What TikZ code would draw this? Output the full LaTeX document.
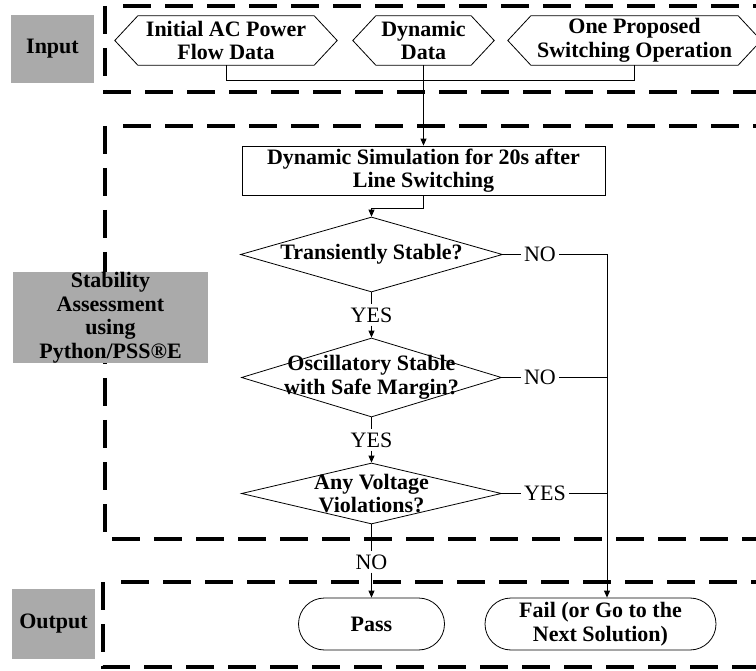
\documentclass[tikz,border=0pt]{standalone}
\usepackage{fontspec}
\setmainfont{Liberation Serif}
\usetikzlibrary{shapes.geometric, arrows.meta, calc}
\definecolor{tagfill}{RGB}{170,170,170}

\begin{document}
\begin{tikzpicture}[x=1pt, y=-1pt,
  txt/.style={font=\fontsize{22}{23.5}\selectfont},
  boldtext/.style={font=\fontsize{22}{23.5}\selectfont\bfseries, align=center, inner sep=0pt},
  frame/.style={line width=3.3pt, dash pattern=on 28pt off 14pt},
  tag/.style={boldtext, fill=tagfill},
  hexnode/.style={boldtext, minimum height=49pt},
  outline/.style={line width=0.8pt},
  procbox/.style={boldtext, draw, outline, minimum width=363pt, minimum height=49pt},
  decision/.style={diamond, draw, outline, inner sep=0pt},
  terminal/.style={boldtext, draw, outline, rounded corners=26pt, minimum height=52pt},
  conn/.style={line width=0.9pt},
  arr/.style={conn, -{Triangle[length=7pt,width=6pt]}},
  answer/.style={txt, inner sep=3pt}
]
\useasboundingbox (0,0) rectangle (756,671);

% dashed group frames (open to the right)
\draw[frame] (105,6) -- (105,92) -- (764,92);
\draw[frame] (123,6) -- (764,6);
\draw[frame] (105,126) -- (105,539) -- (764,539);
\draw[frame] (123,126) -- (764,126);
\draw[frame] (103,582) -- (103,667) -- (764,667);
\draw[frame] (121,582) -- (764,582);

% group tags
\node[tag, minimum width=83pt, minimum height=68pt] (tagin) at (52.5,49) {Input};
\node[tag, minimum width=195pt, minimum height=89pt] (tagstab) at (110.5,317.5)
  {Stability\\Assessment\\using\\Python/PSS®E};
\node[tag, minimum width=83pt, minimum height=70pt] (tagout) at (53.5,624) {Output};

% input data
\node[hexnode, minimum width=222pt] (h1) at (226,40.5) {Initial AC Power\\Flow Data};
\node[hexnode, minimum width=141pt] (h2) at (423.5,40.5) {Dynamic\\Data};
\node[hexnode, minimum width=253pt] (h3) at (634.5,40.5) {One Proposed\\Switching Operation};
\foreach \h in {h1,h2,h3}
  \draw[outline] (\h.west) -- ($(\h.north west)+(23,0)$) -- ($(\h.north east)+(-23,0)$)
    -- (\h.east) -- ($(\h.south east)+(-23,0)$) -- ($(\h.south west)+(23,0)$) -- cycle;

% simulation and checks
\node[procbox] (sim) at (423.5,170.5) {Dynamic Simulation for 20s after\\Line Switching};

\node[decision, minimum width=262pt, minimum height=75pt] (d1) at (371.5,254.5) {};
\node[boldtext] (t1) at (d1.center) {Transiently Stable?};
\node[decision, minimum width=260pt, minimum height=79pt] (d2) at (371.5,377.5) {};
\node[boldtext] (t2) at (d2.center) {Oscillatory Stable\\with Safe Margin?};
\node[decision, minimum width=260pt, minimum height=61pt] (d3) at (371.5,493.5) {};
\node[boldtext] (t3) at (d3.center) {Any Voltage\\Violations?};

% outcomes
\node[terminal, minimum width=146pt] (pass) at (371.5,624) {Pass};
\node[terminal, minimum width=231pt] (fail) at (600.5,624) {Fail (or Go to the\\Next Solution)};

% answer labels
\node[answer] (yes1) at (371.5,315) {YES};
\node[answer] (yes2) at (371.5,440) {YES};
\node[answer] (no3) at (371.5,562) {NO};
\node[answer] (no1) at (540,254.5) {NO};
\node[answer] (no2) at (540,377.5) {NO};
\node[answer] (yes3) at (545,493.5) {YES};
\coordinate (j1) at (607,254.5);
\coordinate (j2) at (607,377.5);
\coordinate (j3) at (607,493.5);

% connectors
\draw[conn] (h1.south) -- ++(0,15) -| (h3.south);
\draw[arr] (h2.south) -- (sim.north);
\draw[arr] (sim.south) -- ++(0,13) -| (d1.north);
\draw[conn] (d1.south) -- (yes1);
\draw[arr] (yes1) -- (d2.north);
\draw[conn] (d2.south) -- (yes2);
\draw[arr] (yes2) -- (d3.north);
\draw[conn] (d3.south) -- (no3);
\draw[arr] (no3) -- (pass.north);
\draw[conn] (d1.east) -- (no1) -- (j1);
\draw[conn] (d2.east) -- (no2) -- (j2);
\draw[conn] (d3.east) -- (yes3) -- (j3);
\draw[arr] (j1) -- (j1 |- fail.north);
\end{tikzpicture}
\end{document}
